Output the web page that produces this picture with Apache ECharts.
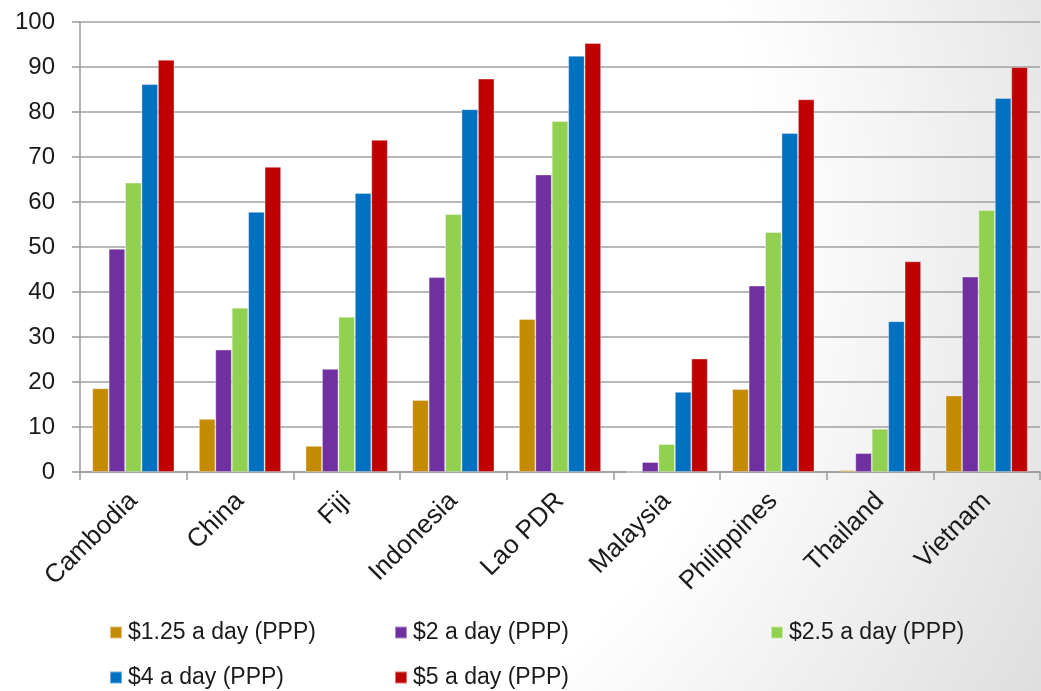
<!DOCTYPE html>
<html>
<head>
<meta charset="utf-8">
<script src="https://cdn.jsdelivr.net/npm/echarts@6/dist/echarts.min.js"></script>
<style>
  html, body { margin: 0; padding: 0; }
  #chart { width: 1041px; height: 691px; }
</style>
</head>
<body>
<div id="chart"></div>
<script>
// Share of population living below each poverty line (%), by country
const countries = ['Cambodia', 'China', 'Fiji', 'Indonesia', 'Lao PDR', 'Malaysia', 'Philippines', 'Thailand', 'Vietnam'];
const seriesNames = ['$1.25 a day (PPP)', '$2 a day (PPP)', '$2.5 a day (PPP)', '$4 a day (PPP)', '$5 a day (PPP)'];
const line125 = [18.6, 11.8, 5.8, 16.0, 34.0, 0.0, 18.4, 0.4, 17.0];
const line2   = [49.6, 27.2, 22.9, 43.3, 66.1, 2.2, 41.4, 4.2, 43.4];
const line25  = [64.3, 36.5, 34.5, 57.3, 78.0, 6.2, 53.3, 9.6, 58.2];
const line4   = [86.2, 57.8, 62.0, 80.6, 92.5, 17.8, 75.3, 33.5, 83.1];
const line5   = [91.6, 67.8, 73.8, 87.4, 95.3, 25.2, 82.8, 46.8, 90.0];
const yTicks = { min: 0, max: 100, interval: 10 };

const colors = ['#C48A00', '#7030A0', '#92D050', '#0070C0', '#C00000'];
const values = [line125, line2, line25, line4, line5];

const chart = echarts.init(document.getElementById('chart'));
const font = 'Liberation Sans, Arial, sans-serif';

// one legend block per entry so the entries sit in fixed columns
const legendSlots = [
  { left: 109, top: 621 }, { left: 394, top: 621 }, { left: 770, top: 621 },
  { left: 109, top: 666 }, { left: 394, top: 666 }
];

chart.setOption({
  backgroundColor: {
    type: 'radial', x: 0.15, y: 0.3, r: 1.46,
    colorStops: [
      { offset: 0, color: '#ffffff' },
      { offset: 0.6, color: '#ffffff' },
      { offset: 1, color: '#dedede' }
    ]
  },
  color: colors,
  textStyle: { fontFamily: font },
  grid: { left: 80, right: 1, top: 22, bottom: 219, containLabel: false },
  legend: seriesNames.map((n, i) => ({
    data: [n],
    left: legendSlots[i].left,
    top: legendSlots[i].top,
    padding: 0,
    itemWidth: 12, itemHeight: 12,
    icon: 'rect',
    textStyle: { fontSize: 23, color: '#1a1a1a', fontFamily: font, padding: [0, 0, 0, 1] },
    selectedMode: false
  })),
  xAxis: {
    type: 'category',
    data: countries,
    axisLine: { lineStyle: { color: '#9a9a9a', width: 1.5 } },
    axisTick: { show: true, length: 8, lineStyle: { color: '#9a9a9a', width: 1.5 } },
    axisLabel: { rotate: 45, fontSize: 26, color: '#1a1a1a', margin: 25, fontFamily: font }
  },
  yAxis: {
    type: 'value',
    min: yTicks.min, max: yTicks.max, interval: yTicks.interval,
    axisLine: { show: true, lineStyle: { color: '#9a9a9a', width: 1.5 } },
    axisTick: { show: true, length: 8, lineStyle: { color: '#9a9a9a', width: 1.5 } },
    axisLabel: { fontSize: 24, color: '#1a1a1a', margin: 25, fontFamily: font },
    splitLine: { lineStyle: { color: '#a0a0a0', width: 1.5 } }
  },
  series: seriesNames.map((n, i) => ({
    name: n,
    type: 'bar',
    data: values[i],
    barGap: '0%',
    barCategoryGap: '23%',
    itemStyle: { color: colors[i], borderColor: 'rgba(255,255,255,0.45)', borderWidth: 0.8 }
  }))
});
</script>
</body>
</html>
